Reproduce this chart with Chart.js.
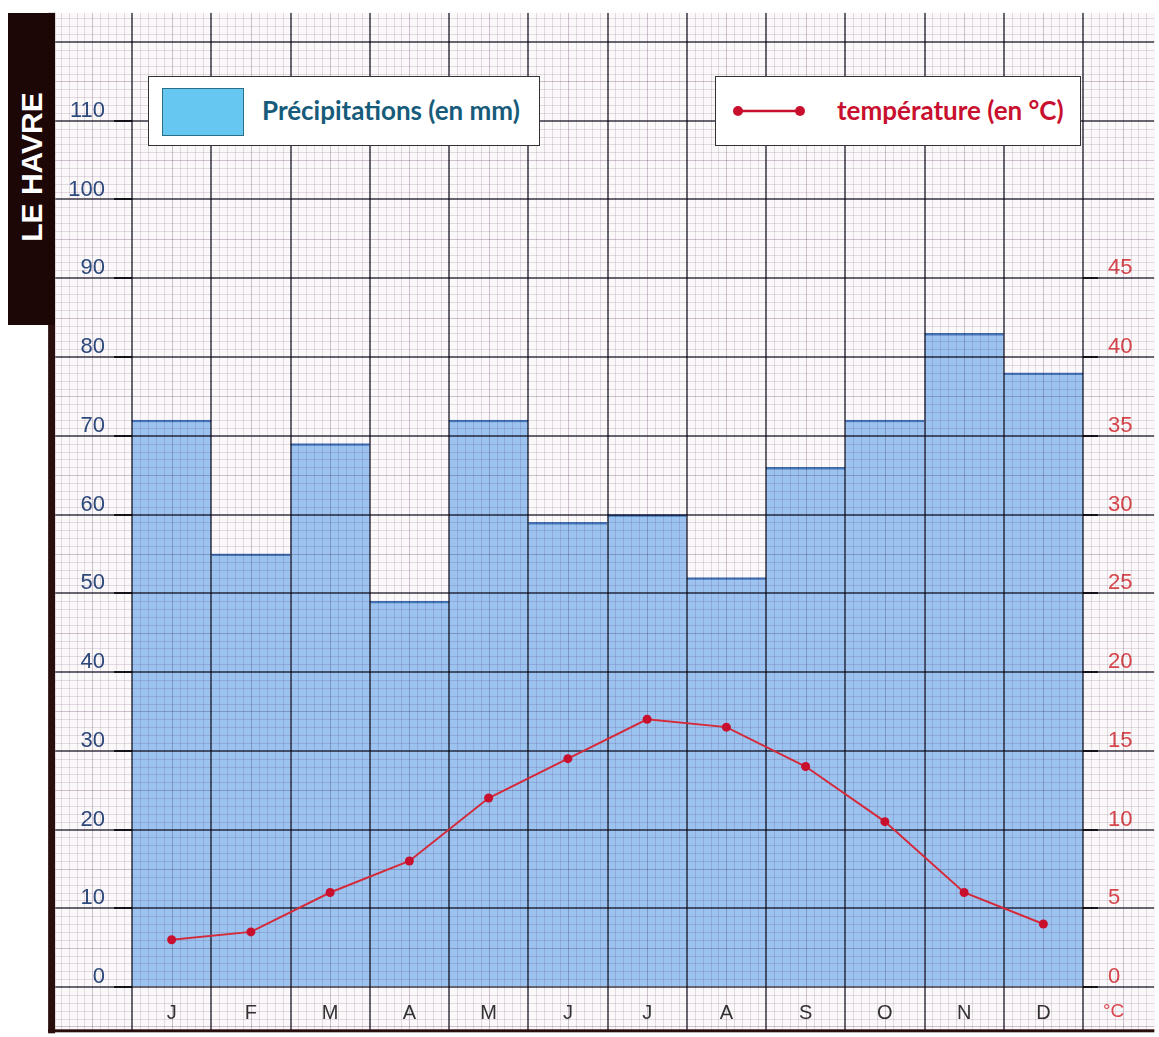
<!DOCTYPE html>
<html>
<head>
<meta charset="utf-8">
<script src="https://cdn.jsdelivr.net/npm/chart.js@4.4.0/dist/chart.umd.min.js"></script>
<style>
  body { margin: 0; background: #fff; }
  #wrap { position: relative; width: 1159px; height: 1037px; }
  #chart { position: absolute; left: 0; top: 0; }
  .title {
    position: absolute; left: 8px; top: 13px; width: 47px; height: 312px;
    background: #1c0606;
  }
  .title span {
    position: absolute; left: 50%; top: 154px;
    transform: translate(-50%, -50%) rotate(-90deg);
    color: #fff; font: bold 30px "Liberation Sans", Arial, sans-serif;
    white-space: nowrap;
  }
  .legend {
    position: absolute; top: 76px; height: 70px; background: #fff;
    border: 1.5px solid #333; box-sizing: border-box;
    font: bold 26px Lato, sans-serif; white-space: nowrap;
  }
  .legend .txt { position: absolute; top: 50%; transform: translateY(-52%); }
  .swatch {
    position: absolute; left: 13px; top: 11px; width: 82px; height: 48px;
    background: #66c8f0; border: 1.5px solid #2a6f8a; box-sizing: border-box;
  }
  .unit {
    position: absolute; left: 1103px; top: 1000px; color: #d9474c;
    font: 19px "Liberation Sans", Arial, sans-serif;
  }
</style>
</head>
<body>
<div id="wrap">
  <canvas id="chart" width="1159" height="1037"></canvas>
  <div class="title"><span>LE HAVRE</span></div>
  <div class="legend" style="left:148px;width:392px;">
    <div class="swatch"></div>
    <div class="txt" style="left:113px;color:#175b7b;">Précipitations (en mm)</div>
  </div>
  <div class="legend" style="left:715px;width:366px;">
    <svg width="90" height="20" style="position:absolute;left:12px;top:24px;">
      <line x1="10" y1="10" x2="72" y2="10" stroke="#c8102e" stroke-width="2.5"/>
      <circle cx="10" cy="10" r="5" fill="#c8102e"/>
      <circle cx="72" cy="10" r="5" fill="#c8102e"/>
    </svg>
    <div class="txt" style="left:121px;color:#c8102e;">température (en °C)</div>
  </div>
  <div class="unit">°C</div>
</div>
<script>
const months = ['J', 'F', 'M', 'A', 'M', 'J', 'J', 'A', 'S', 'O', 'N', 'D']
const precipitation = [72, 55, 69, 49, 72, 59, 60, 52, 66, 72, 83, 78]
const temperature = [3, 3.5, 6, 8, 12, 14.5, 17, 16.5, 14, 10.5, 6, 4]

// extent of the graph paper, in axis units (months / mm)
const paperX = [-0.97, 12.9]
const paperY = [-5.5, 123.7]

function paperRect(chart) {
  const gx = chart.scales.gx
  const y = chart.scales.y
  return {
    x0: gx.getPixelForValue(paperX[0]), x1: gx.getPixelForValue(paperX[1]),
    y0: y.getPixelForValue(paperY[1]), y1: y.getPixelForValue(paperY[0])
  }
}

const paperPlugin = {
  id: 'paper',
  beforeDraw(chart) {
    const ctx = chart.ctx
    const r = paperRect(chart)
    ctx.save()
    ctx.fillStyle = '#fff'
    ctx.fillRect(0, 0, chart.width, chart.height)
    ctx.fillStyle = '#fbf8fa'
    ctx.fillRect(r.x0, r.y0, r.x1 - r.x0, r.y1 - r.y0)
    ctx.restore()
  },
  afterDatasetDraw(chart, args) {
    // grid printed over the bars, so it shows through them
    if (args.index !== 1) return
    const ctx = chart.ctx
    const gx = chart.scales.gx
    const y = chart.scales.y
    const r = paperRect(chart)
    ctx.save()
    ctx.beginPath()
    ctx.rect(r.x0, r.y0, r.x1 - r.x0, r.y1 - r.y0)
    ctx.clip()
    ctx.globalCompositeOperation = 'multiply'
    const style = (k) => k % 10 === 0 ? ['#6a6772', 2] : k % 5 === 0 ? ['#d0c7d0', 1] : ['#e7dfe6', 1]
    const passes = [1, 5, 10]
    passes.forEach((p) => {
      for (let v = Math.ceil(paperY[0]); v <= paperY[1]; v++) {
        const [c, w] = style(v)
        if ((p === 10 && v % 10 !== 0) || (p === 5 && (v % 5 !== 0 || v % 10 === 0)) || (p === 1 && v % 5 === 0)) continue
        const py = Math.round(y.getPixelForValue(v)) + (w === 1 ? 0.5 : 0)
        ctx.strokeStyle = c
        ctx.lineWidth = w
        ctx.beginPath()
        ctx.moveTo(r.x0, py)
        ctx.lineTo(r.x1, py)
        ctx.stroke()
      }
      for (let k = Math.ceil(paperX[0] * 10); k <= paperX[1] * 10; k++) {
        const [c, w] = style(k)
        if ((p === 10 && k % 10 !== 0) || (p === 5 && (k % 5 !== 0 || k % 10 === 0)) || (p === 1 && k % 5 === 0)) continue
        const px = Math.round(gx.getPixelForValue(k / 10)) + (w === 1 ? 0.5 : 0)
        ctx.strokeStyle = c
        ctx.lineWidth = w
        ctx.beginPath()
        ctx.moveTo(px, r.y0)
        ctx.lineTo(px, r.y1)
        ctx.stroke()
      }
    })
    ctx.restore()

    // frame on the left and bottom
    ctx.save()
    ctx.fillStyle = '#2a0d0d'
    ctx.fillRect(r.x0 - 7, r.y0, 7, r.y1 - r.y0 + 3)
    ctx.fillRect(r.x0 - 7, r.y1 - 1, r.x1 - r.x0 + 7, 3)
    ctx.restore()
  }
}

new Chart(document.getElementById('chart'), {
  type: 'bar',
  data: {
    labels: months,
    datasets: [
      {
        type: 'line',
        label: 'température (en °C)',
        data: temperature,
        xAxisID: 'x',
        yAxisID: 'y2',
        borderColor: '#d42a3a',
        backgroundColor: '#c8102e',
        borderWidth: 2,
        pointRadius: 4.5,
        pointBackgroundColor: '#c8102e',
        pointBorderWidth: 0,
        tension: 0,
        order: 0
      },
      {
        label: 'Précipitations (en mm)',
        data: precipitation,
        xAxisID: 'x',
        yAxisID: 'y',
        backgroundColor: '#9cc3f0',
        borderColor: '#4676b8',
        borderWidth: { top: 2.5, left: 0, right: 0, bottom: 0 },
        borderSkipped: false,
        barPercentage: 1,
        categoryPercentage: 1,
        order: 1
      }
    ]
  },
  options: {
    responsive: false,
    animation: false,
    layout: { padding: { top: 42, bottom: 7, left: 0, right: 0 } },
    plugins: {
      legend: { display: false },
      tooltip: { enabled: false }
    },
    scales: {
      x: {
        offset: true,
        grid: { display: false },
        border: { display: false },
        ticks: { color: '#333', padding: 6, font: { family: 'Liberation Sans', size: 20 } },
        afterFit: (s) => { s.height = 43 }
      },
      gx: {
        type: 'linear',
        axis: 'x',
        position: 'bottom',
        display: false,
        offset: false,
        grid: { offset: false },
        min: 0,
        max: 12
      },
      y: {
        position: 'left',
        min: 0,
        max: 120,
        border: { display: false },
        grid: {
          drawOnChartArea: false,
          tickLength: 18,
          lineWidth: 2,
          color: (c) => c.tick && c.tick.value < 120 ? '#2e2e36' : 'rgba(0,0,0,0)'
        },
        ticks: {
          stepSize: 10,
          padding: 9,
          labelOffset: -10,
          color: '#2d4a7c',
          font: { family: 'Liberation Sans', size: 22 },
          callback: (v) => v < 120 ? v : ''
        },
        afterFit: (s) => { s.width = 132 }
      },
      y2: {
        position: 'right',
        min: 0,
        max: 60,
        border: { display: false },
        grid: {
          drawOnChartArea: false,
          tickLength: 15,
          lineWidth: 2,
          color: (c) => c.tick && c.tick.value <= 45 ? '#2e2e36' : 'rgba(0,0,0,0)'
        },
        ticks: {
          stepSize: 5,
          padding: 10,
          labelOffset: -10,
          color: '#d9474c',
          font: { family: 'Liberation Sans', size: 22 },
          callback: (v) => v <= 45 ? v : ''
        },
        afterFit: (s) => { s.width = 76 }
      }
    }
  },
  plugins: [paperPlugin]
})
</script>
</body>
</html>
